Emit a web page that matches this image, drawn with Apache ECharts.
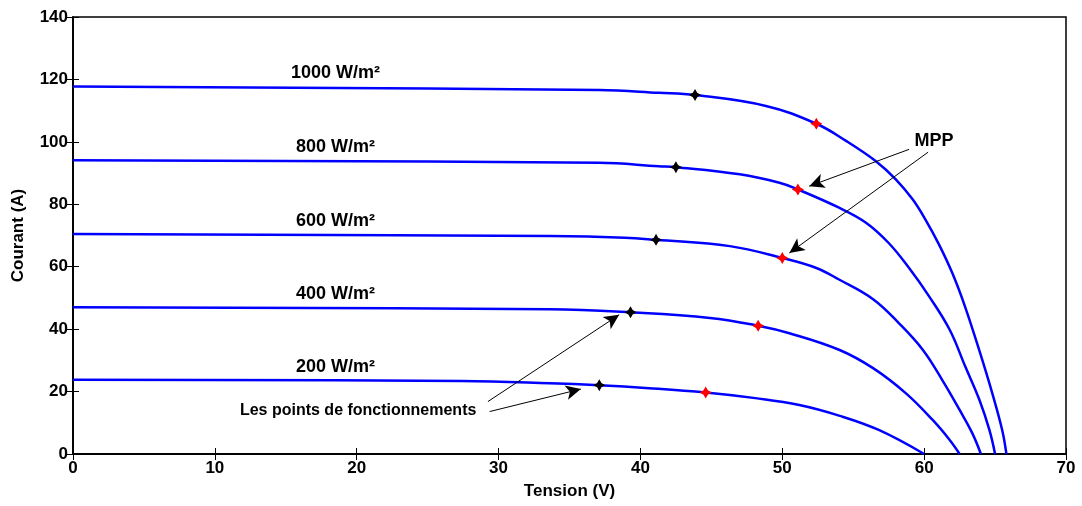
<!DOCTYPE html>
<html>
<head>
<meta charset="utf-8">
<title>Caractéristiques I-V</title>
<script src="https://cdn.jsdelivr.net/npm/echarts@6/dist/echarts.min.js"></script>
<style>
  html, body { margin: 0; padding: 0; background: #ffffff; }
  #chart { width: 1082px; height: 506px; }
</style>
</head>
<body>
<div id="chart"></div>
<script>
// I-V curves of the PV array for five irradiance levels
const irradianceLabels = ['1000 W/m²', '800 W/m²', '600 W/m²', '400 W/m²', '200 W/m²'];

const voltage1000 = [0, 37.1, 41.3, 43.85, 48.85, 52.4, 54.5, 56.6, 58.0, 59.2, 60.1, 61.06, 62.0, 62.9, 63.9, 64.8, 65.5, 65.8];
const current1000 = [117.75, 116.6, 115.7, 115.0, 111.5, 105.8, 100.3, 93.8, 88.0, 81.5, 75.0, 67.0, 57.8, 47.0, 33.0, 19.5, 7.7, 0];

const voltage800 = [0, 37.1, 41.3, 42.5, 47.0, 49.8, 51.1, 54.0, 55.9, 57.5, 58.9, 60.35, 61.8, 62.9, 63.9, 64.6, 65.0];
const current800 = [94.1, 93.3, 92.2, 91.9, 89.6, 86.9, 84.75, 78.9, 74.1, 67.6, 59.8, 50.5, 39.8, 28.0, 17.3, 7.7, 0];

const voltage600 = [0, 33.6, 38.9, 41.1, 46.3, 50.0, 52.4, 54.0, 56.4, 58.2, 59.9, 61.3, 62.5, 63.4, 64.0];
const current600 = [70.5, 69.8, 69.3, 68.6, 66.6, 62.8, 59.6, 55.9, 49.6, 42.0, 33.4, 23.5, 14.1, 6.6, 0];

const voltage400 = [0, 33.6, 39.3, 44.9, 48.3, 50.5, 54.0, 56.4, 58.7, 60.6, 61.8, 62.5];
const current400 = [47.0, 46.4, 45.4, 43.6, 41.1, 38.7, 33.4, 27.5, 19.5, 10.9, 4.5, 0];

const voltage200 = [0, 27.4, 33.6, 37.1, 40.6, 44.6, 48.1, 51.2, 54.0, 56.8, 60.0];
const current200 = [23.8, 23.4, 22.7, 22.05, 21.1, 19.7, 17.9, 15.7, 12.3, 7.7, 0];

// operating points (black) and maximum power points (red), 1000 -> 200 W/m²
const operatingVoltage = [43.85, 42.5, 41.1, 39.3, 37.1];
const operatingCurrent = [115.0, 91.9, 68.6, 45.4, 22.05];
const mppVoltage = [52.4, 51.1, 50.0, 48.3, 44.6];
const mppCurrent = [105.8, 84.75, 62.8, 41.1, 19.7];

const xTicks = [0, 10, 20, 30, 40, 50, 60, 70];
const yTicks = [0, 20, 40, 60, 80, 100, 120, 140];

const FONT = '"Liberation Sans", Arial, sans-serif';

const curves = [
  [voltage1000, current1000],
  [voltage800, current800],
  [voltage600, current600],
  [voltage400, current400],
  [voltage200, current200]
];

const pairs = (xs, ys) => xs.map((x, i) => [x, ys[i]]);

// chunky four-armed star used for the point markers
const starPath = 'path://M0,-6 L2.2,-2.2 L6,0 L2.2,2.2 L0,6 L-2.2,2.2 L-6,0 L-2.2,-2.2 Z';

const curveSeries = curves.map((c, i) => ({
  name: irradianceLabels[i],
  type: 'line',
  data: pairs(c[0], c[1]),
  smooth: 0.4,
  showSymbol: false,
  lineStyle: { color: '#0000ff', width: 2.5 },
  z: 2
}));

// irradiance captions sit just above the flat part of each curve
const captionSeries = {
  type: 'scatter',
  symbolSize: 0,
  silent: true,
  itemStyle: { opacity: 1 },
  data: curves.map((c, i) => ({ value: [18.5, c[1][0]], name: irradianceLabels[i] })),
  label: {
    show: true,
    position: 'top',
    distance: 4,
    formatter: p => p.name,
    color: '#000',
    fontFamily: FONT,
    fontWeight: 'bold',
    fontSize: 18
  },
  z: 3
};

const operatingSeries = {
  type: 'scatter',
  symbol: starPath,
  symbolSize: 12,
  itemStyle: { color: '#000000', opacity: 1 },
  data: pairs(operatingVoltage, operatingCurrent),
  z: 4
};

const mppSeries = {
  type: 'scatter',
  symbol: starPath,
  symbolSize: 12,
  itemStyle: { color: '#ff0000', opacity: 1 },
  data: pairs(mppVoltage, mppCurrent),
  z: 4
};

// annotation arrows: [start, tip] in axis units
const arrowLines = [
  [[58.94, 97.6], [51.9, 85.8]],
  [[60.28, 96.7], [50.5, 64.4]],
  [[29.37, 13.6], [35.8, 20.8]],
  [[29.25, 16.8], [38.5, 44.6]]
];

const annotationSeries = {
  type: 'scatter',
  symbolSize: 0,
  silent: true,
  itemStyle: { opacity: 1 },
  data: [
    { value: [60.7, 100.2], name: 'MPP', label: { fontSize: 18 } },
    { value: [20.1, 13.8], name: 'Les points de fonctionnements', label: { fontSize: 16 } }
  ],
  label: {
    show: true,
    position: 'inside',
    formatter: p => p.name,
    color: '#000',
    fontFamily: FONT,
    fontWeight: 'bold'
  },
  markLine: {
    silent: true,
    animation: false,
    symbol: ['none', 'arrow'],
    symbolSize: [11, 15],
    label: { show: false },
    lineStyle: { color: '#000', width: 1, type: 'solid', opacity: 1 },
    data: arrowLines.map(a => [{ coord: a[0] }, { coord: a[1] }])
  },
  z: 5
};

const tickLabel = {
  color: '#000',
  fontFamily: FONT,
  fontWeight: 'bold',
  fontSize: 17
};

const nameStyle = { color: '#000', fontFamily: FONT, fontWeight: 'bold', fontSize: 17 };

const chart = echarts.init(document.getElementById('chart'), null, { renderer: 'canvas' });
chart.setOption({
  animation: false,
  backgroundColor: '#ffffff',
  grid: {
    left: 73, right: 16, top: 17, bottom: 52,
    show: true,
    borderColor: '#000',
    borderWidth: 1.5,
    backgroundColor: '#ffffff'
  },
  xAxis: [
    {
      type: 'value',
      min: xTicks[0], max: xTicks[xTicks.length - 1], interval: 10,
      name: 'Tension (V)',
      nameLocation: 'middle',
      nameGap: 29,
      nameTextStyle: nameStyle,
      axisLine: { show: true, lineStyle: { color: '#000', width: 1.5 } },
      axisTick: { show: true, inside: true, length: 6, lineStyle: { color: '#000' } },
      axisLabel: Object.assign({ margin: 6 }, tickLabel),
      splitLine: { show: false }
    },
    {
      type: 'value', position: 'top',
      min: xTicks[0], max: xTicks[xTicks.length - 1], interval: 10,
      axisLine: { show: true, lineStyle: { color: '#000', width: 1.5 } },
      axisTick: { show: true, inside: true, length: 6, lineStyle: { color: '#000' } },
      axisLabel: { show: false },
      splitLine: { show: false }
    }
  ],
  yAxis: [
    {
      type: 'value',
      min: yTicks[0], max: yTicks[yTicks.length - 1], interval: 20,
      name: 'Courant (A)',
      nameLocation: 'middle',
      nameGap: 46,
      nameTextStyle: nameStyle,
      axisLine: { show: true, lineStyle: { color: '#000', width: 1.5 } },
      axisTick: { show: true, inside: true, length: 6, lineStyle: { color: '#000' } },
      axisLabel: Object.assign({ margin: 5 }, tickLabel),
      splitLine: { show: false }
    },
    {
      type: 'value', position: 'right',
      min: yTicks[0], max: yTicks[yTicks.length - 1], interval: 20,
      axisLine: { show: true, lineStyle: { color: '#000', width: 1.5 } },
      axisTick: { show: true, inside: true, length: 6, lineStyle: { color: '#000' } },
      axisLabel: { show: false },
      splitLine: { show: false }
    }
  ],
  series: curveSeries.concat([captionSeries, operatingSeries, mppSeries, annotationSeries])
});
</script>
</body>
</html>
